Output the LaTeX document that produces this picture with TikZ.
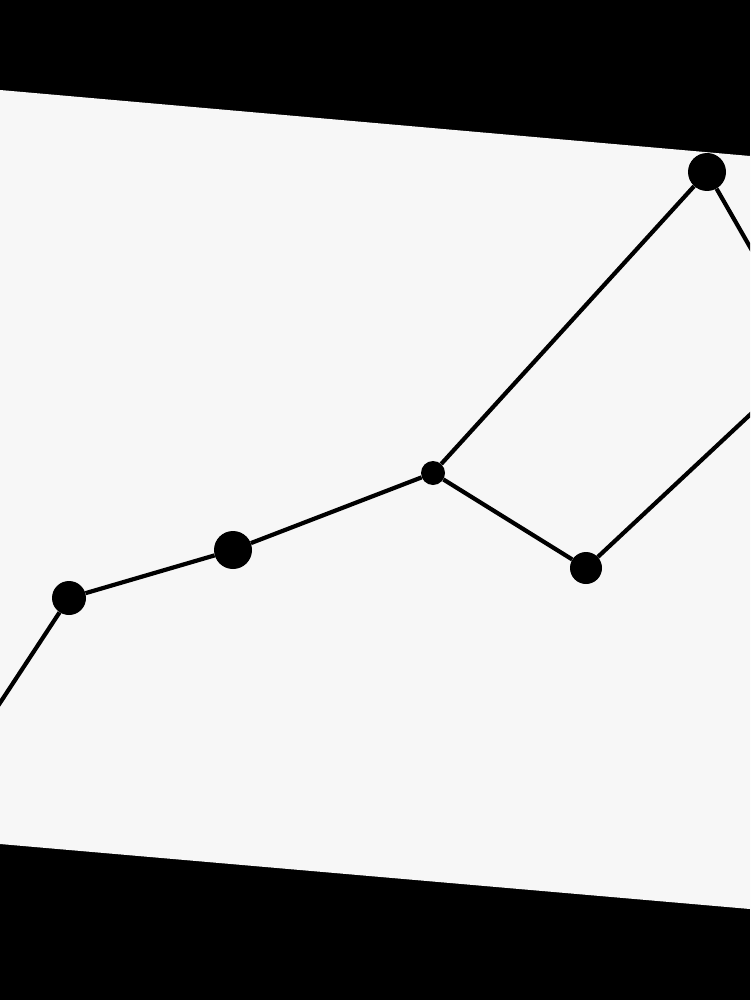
\documentclass[tikz,border=0pt]{standalone}
\usepackage{tikz}

\definecolor{paper}{HTML}{F7F7F7}

\tikzset{
    dot/.style={circle, fill=black, inner sep=0pt, minimum size=#1},
    edge/.style={line width=4.2pt, black}
}

\begin{document}
\begin{tikzpicture}[x=1pt, y=-1pt]
        % Fix the frame and the black surround
        \useasboundingbox (0,0) rectangle (750,1000);
        \fill[black] (0,0) rectangle (750,1000);
        \clip (0,0) rectangle (750,1000);

        % The tilted sheet
        \fill[paper] (0,90) -- (750,156) -- (750,909) -- (0,844) -- cycle;

        % Define the points of the graph
        \node[dot=34pt] (p1) at (69,598) {};
        \node[dot=38pt] (p2) at (233,550) {};
        \node[dot=24pt] (p3) at (433,473) {};
        \node[dot=32pt] (p4) at (586,568) {};
        \node[dot=38pt] (p5) at (707,172) {};

        % Loose ends running off the sheet
        \coordinate (left-end) at (-4,709);
        \coordinate (top-end) at (754,254);
        \coordinate (right-end) at (754,411);

        % Draw the connecting lines
        \draw[edge] (left-end) -- (p1) -- (p2) -- (p3) -- (p5) -- (top-end);
        \draw[edge] (p3) -- (p4) -- (right-end);
\end{tikzpicture}
\end{document}
